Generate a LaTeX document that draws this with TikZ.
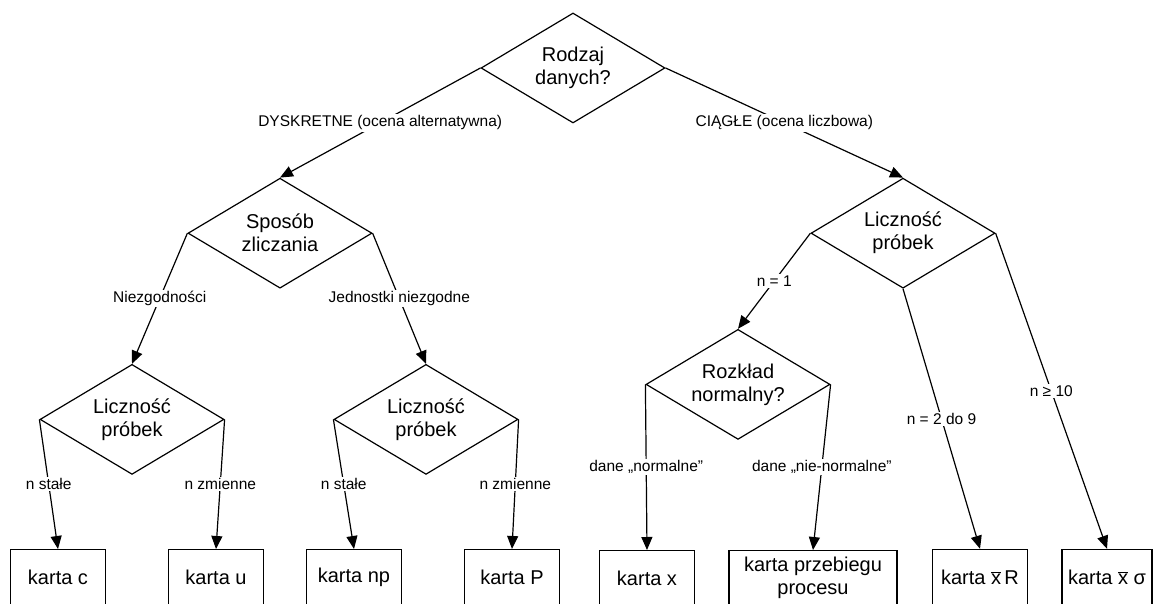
\documentclass[tikz,border=0pt]{standalone}
\usepackage{fontspec}
\setmainfont{Liberation Sans}
\usetikzlibrary{shapes.geometric, arrows.meta, positioning}

\begin{document}
\begin{tikzpicture}[
    x=1pt, y=1pt,
    line width=1.2pt,
    every node/.style={font=\fontsize{20}{23}\selectfont},
    decision/.style={diamond, draw, aspect=1.67, inner sep=0pt, minimum width=184pt, minimum height=110pt, align=center},
    chart/.style={rectangle, draw, minimum width=95pt, minimum height=55pt, align=center},
    arrow/.style={-{Triangle[length=13pt, width=11pt]}},
    cond/.style={fill=white, inner sep=1.5pt, font=\fontsize{15.5}{18}\selectfont}
]
\useasboundingbox (0,0) rectangle (1153,604);
% Decisions
\node[decision] (root) at (573,536) {Rodzaj\\danych?};
\node[decision, below=54pt of root, xshift=-293pt] (sposob) {Sposób\\zliczania};
\node[decision, below=54pt of root, xshift=330pt] (liczc) {Liczność\\próbek};
\node[decision, below=75pt of sposob, xshift=-148pt] (liczn) {Liczność\\próbek};
\node[decision, below=75pt of sposob, xshift=146pt] (liczj) {Liczność\\próbek};
\node[decision, below=40pt of liczc, xshift=-165pt] (rozklad) {Rozkład\\normalny?};
% Control charts
\node[chart, below=74pt of liczn, xshift=-74pt] (kc) {karta c};
\node[chart, below=74pt of liczn, xshift=84pt] (ku) {karta u};
\node[chart, below=74pt of liczj, xshift=-72pt] (knp) {karta np};
\node[chart, below=74pt of liczj, xshift=86pt] (kp) {karta P};
\node[chart, below=110pt of rozklad, xshift=-91pt] (kx) {karta x};
\node[chart, minimum width=168pt, below=110pt of rozklad, xshift=75pt] (kprz) {karta przebiegu\\procesu};
\node[chart, below=260pt of liczc, xshift=77pt] (kxr) {karta $\overline{\mbox{x}}$\,R};
\node[chart, minimum width=90pt, below=260pt of liczc, xshift=204pt] (kxs) {karta $\overline{\mbox{x}}$ σ};
% Branches
\draw[arrow] (root.west) -- (sposob.north) node[cond, midway] {DYSKRETNE (ocena alternatywna)};
\draw[arrow] (root.east) -- (liczc.north) node[cond, midway] {CIĄGŁE (ocena liczbowa)};
\draw[arrow] (sposob.west) -- (liczn.north) node[cond, midway] {Niezgodności};
\draw[arrow] (sposob.east) -- (liczj.north) node[cond, midway] {Jednostki niezgodne};
\draw[arrow] (liczn.west) -- (kc.north) node[cond, midway] {n stałe};
\draw[arrow] (liczn.east) -- (ku.north) node[cond, midway] {n zmienne};
\draw[arrow] (liczj.west) -- (knp.north) node[cond, midway] {n stałe};
\draw[arrow] (liczj.east) -- (kp.north) node[cond, midway] {n zmienne};
\draw[arrow] (liczc.west) -- (rozklad.north) node[cond, midway] {n = 1};
\draw[arrow] (liczc.south) -- (kxr.north) node[cond, midway] {n = 2 do 9};
\draw[arrow] (liczc.east) -- (kxs.north) node[cond, midway] {n ≥ 10};
\draw[arrow] (rozklad.west) -- (kx.north) node[cond, midway] {dane „normalne”};
\draw[arrow] (rozklad.east) -- (kprz.north) node[cond, midway] {dane „nie-normalne”};
\end{tikzpicture}
\end{document}
